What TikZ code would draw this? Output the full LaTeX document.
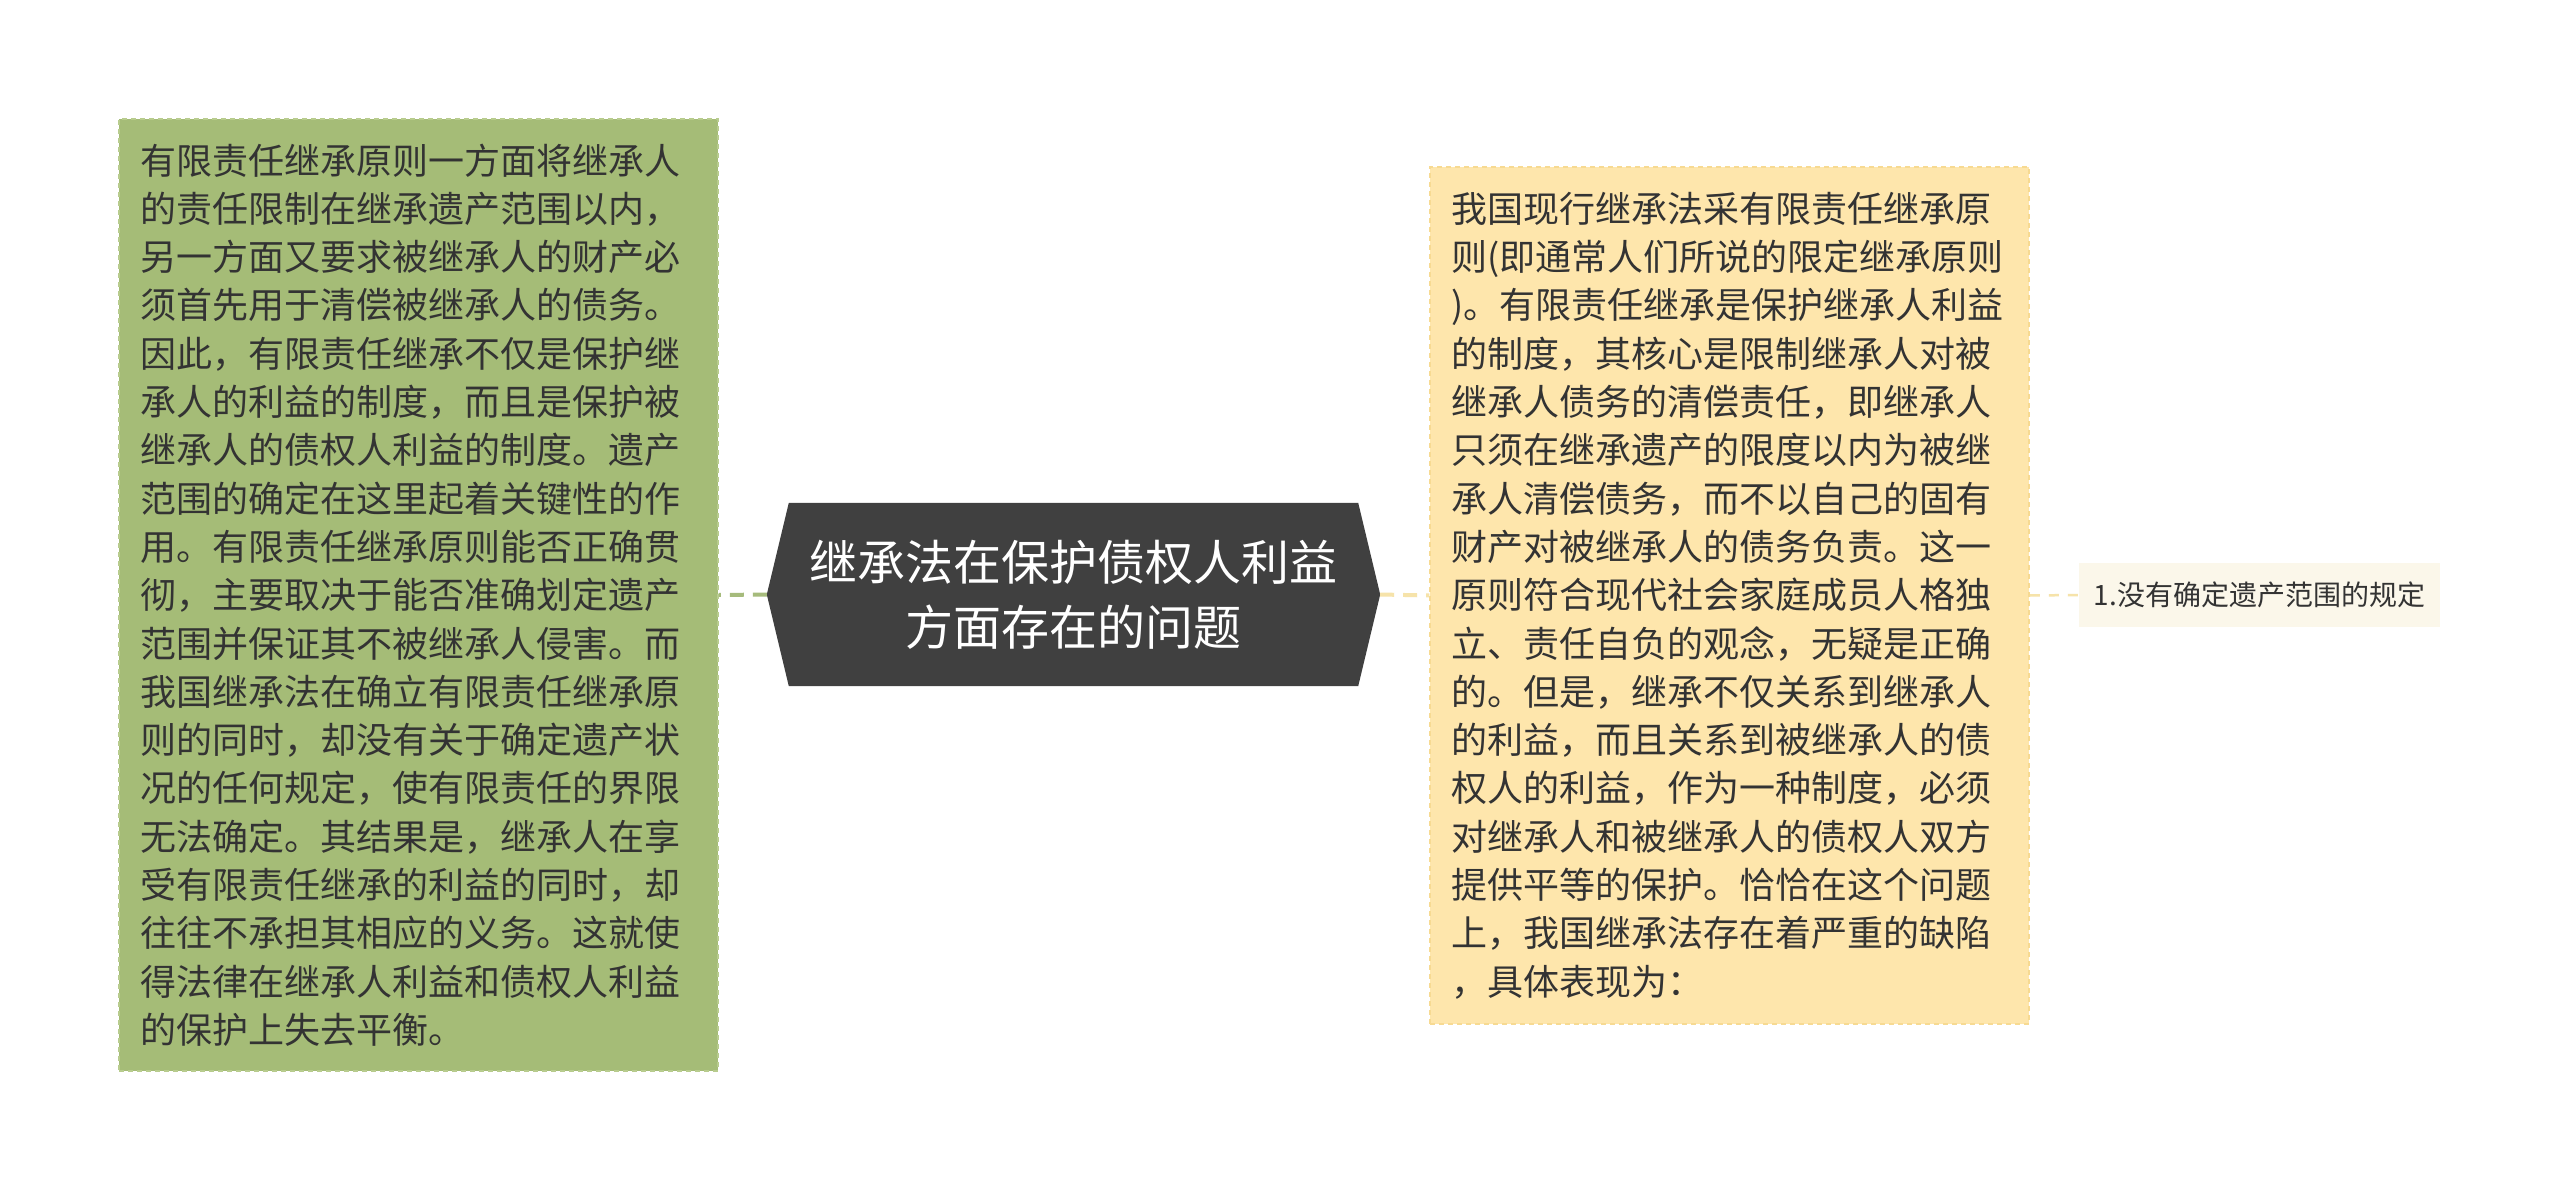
\documentclass[tikz,border=0pt]{standalone}
\usepackage{fontspec}
\setmainfont{Noto Sans CJK SC}
\usetikzlibrary{backgrounds}
\definecolor{greenfill}{HTML}{A5BC77}
\definecolor{greenline}{HTML}{A6BB7C}
\definecolor{greenedge}{HTML}{B8CC8E}
\definecolor{yellowfill}{HTML}{FEE6AC}
\definecolor{yellowedge}{HTML}{F7DA92}
\definecolor{yellowline}{HTML}{F6E3AA}
\definecolor{creamfill}{HTML}{FBF7EA}
\definecolor{darkfill}{HTML}{404040}
\definecolor{textdark}{HTML}{333333}
\tikzset{
  bigbox/.style={rectangle, text width=557pt, inner xsep=21pt, inner ysep=0pt,
    align=left, text=textdark, line width=1.5pt, dash pattern=on 5pt off 4pt,
    font=\fontsize{36pt}{48.3pt}\selectfont},
  greenbox/.style={bigbox, fill=greenfill, draw=greenedge},
  yellowbox/.style={bigbox, fill=yellowfill, draw=yellowedge},
  topicnode/.style={rectangle, minimum width=613pt, minimum height=183pt, inner sep=0pt,
    align=center, text=white, font=\fontsize{48pt}{65pt}\selectfont},
  subnode/.style={rectangle, fill=creamfill, minimum width=361pt, minimum height=64pt,
    inner sep=0pt, text=textdark, font=\fontsize{28pt}{32pt}\selectfont},
  conn/.style={line width=4pt, dash pattern=on 14pt off 9pt},
  thinconn/.style={line width=2.5pt, dash pattern=on 10pt off 9pt}
}
\begin{document}
\begin{tikzpicture}[x=1pt,y=-1pt]
\useasboundingbox (0,0) rectangle (2560,1190);

\node[greenbox, minimum height=952pt] (leftbox) at (418.5,595) {%
有限责任继承原则一方面将继承人\\
的责任限制在继承遗产范围以内，\\
另一方面又要求被继承人的财产必\\
须首先用于清偿被继承人的债务。\\
因此，有限责任继承不仅是保护继\\
承人的利益的制度，而且是保护被\\
继承人的债权人利益的制度。遗产\\
范围的确定在这里起着关键性的作\\
用。有限责任继承原则能否正确贯\\
彻，主要取决于能否准确划定遗产\\
范围并保证其不被继承人侵害。而\\
我国继承法在确立有限责任继承原\\
则的同时，却没有关于确定遗产状\\
况的任何规定，使有限责任的界限\\
无法确定。其结果是，继承人在享\\
受有限责任继承的利益的同时，却\\
往往不承担其相应的义务。这就使\\
得法律在继承人利益和债权人利益\\
的保护上失去平衡。};

\node[yellowbox, minimum height=857pt] (rightbox) at (1729.5,595.5) {%
我国现行继承法采有限责任继承原\\
则(即通常人们所说的限定继承原则\\
)。有限责任继承是保护继承人利益\\
的制度，其核心是限制继承人对被\\
继承人债务的清偿责任，即继承人\\
只须在继承遗产的限度以内为被继\\
承人清偿债务，而不以自己的固有\\
财产对被继承人的债务负责。这一\\
原则符合现代社会家庭成员人格独\\
立、责任自负的观念，无疑是正确\\
的。但是，继承不仅关系到继承人\\
的利益，而且关系到被继承人的债\\
权人的利益，作为一种制度，必须\\
对继承人和被继承人的债权人双方\\
提供平等的保护。恰恰在这个问题\\
上，我国继承法存在着严重的缺陷\\
，具体表现为：};

\node[topicnode] (topic) at (1073.5,594.5) {继承法在保护债权人利益\\方面存在的问题};
\begin{scope}[on background layer]
\fill[white] (0,0) rectangle (2560,1190);
\fill[darkfill] ([xshift=22pt]topic.north west) -- ([xshift=-22pt]topic.north east)
  -- (topic.east) -- ([xshift=-22pt]topic.south east)
  -- ([xshift=22pt]topic.south west) -- (topic.west) -- cycle;
\end{scope}

\node[subnode] (sub) at (2259.5,595) {1.没有确定遗产范围的规定};

\draw[conn, greenline] (topic.west) -- (leftbox.east);
\draw[conn, yellowline] (topic.east) -- (rightbox.west);
\draw[thinconn, yellowline] (rightbox.east) -- (sub.west);
\end{tikzpicture}
\end{document}
